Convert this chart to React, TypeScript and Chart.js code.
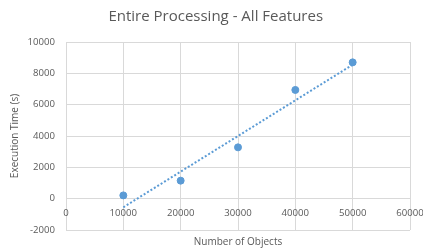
import React, { useEffect, useRef } from "react";
import { Chart, registerables } from "chart.js";

Chart.register(...registerables);

const objectCounts = [10000, 20000, 30000, 40000, 50000];
const executionTimes = [210, 1150, 3275, 6940, 8700];
const trendX = [10000, 50000];
const trendY = [-550, 8550];

const chartTitle = "Entire Processing - All Features";
const xTitle = "Number of Objects";
const yTitle = "Execution Time (s)";

const FONT = "'Open Sans', 'Noto Sans', sans-serif";
const GREY = "#595959";
const BLUE = "#5b9bd5";

const titlePlugin = {
  id: "offsetTitle",
  afterDraw(chart: any) {
    const ctx = chart.ctx;
    ctx.save();
    ctx.fillStyle = GREY;
    ctx.font = `15px ${FONT}`;
    ctx.textAlign = "center";
    ctx.textBaseline = "middle";
    ctx.fillText(chartTitle, chart.width * 0.51, 17);
    ctx.restore();
  },
};

export default function App() {
  const ref = useRef<HTMLCanvasElement>(null);

  useEffect(() => {
    document.body.style.margin = "0";
    const canvas = ref.current;
    if (!canvas) return;
    const chart = new Chart(canvas, {
      type: "scatter",
      data: {
        datasets: [
          {
            label: "Execution",
            data: objectCounts.map((x, i) => ({ x, y: executionTimes[i] })),
            backgroundColor: BLUE,
            borderColor: BLUE,
            pointRadius: 3.5,
            pointHoverRadius: 3.5,
            showLine: false,
          },
          {
            label: "Trend",
            data: trendX.map((x, i) => ({ x, y: trendY[i] })),
            borderColor: BLUE,
            borderWidth: 2,
            borderDash: [2, 2],
            pointRadius: 0,
            showLine: true,
            fill: false,
          },
        ],
      },
      plugins: [titlePlugin],
      options: {
        responsive: false,
        animation: false,
        layout: { padding: { left: 0, right: 13, top: 42, bottom: 0 } },
        plugins: {
          legend: { display: false },
          tooltip: { enabled: false },
          title: { display: false },
        },
        scales: {
          x: {
            type: "linear",
            position: { y: 0 } as any,
            min: 0,
            max: 60000,
            ticks: {
              stepSize: 10000,
              color: GREY,
              font: { family: FONT, size: 9.6 },
              padding: 9,
              maxRotation: 0,
              autoSkip: false,
              callback: (v: any) => String(v),
            },
            grid: { color: "#d9d9d9", drawTicks: false },
            border: { display: false },
            afterFit: (s: any) => {
              s.paddingLeft = 0;
              s.paddingRight = 0;
            },
          },
          x2: {
            type: "linear",
            position: "bottom",
            min: 0,
            max: 60000,
            ticks: { display: false },
            grid: { display: false, drawTicks: false },
            border: { display: false },
            title: {
              display: true,
              text: xTitle,
              color: GREY,
              font: { family: FONT, size: 10 },
              padding: { top: 2, bottom: 3 },
            },
            afterFit: (s: any) => {
              s.height = 21;
              s.paddingLeft = 0;
              s.paddingRight = 0;
            },
          },
          y: {
            type: "linear",
            min: -2000,
            max: 10000,
            ticks: {
              stepSize: 2000,
              color: GREY,
              font: { family: FONT, size: 9.6 },
              padding: 11,
              callback: (v: any) => String(v),
            },
            grid: { color: "#d9d9d9", drawTicks: false },
            border: { display: false },
            title: {
              display: true,
              text: yTitle,
              color: GREY,
              font: { family: FONT, size: 10 },
              padding: { top: 9, bottom: 0 },
            },
            afterFit: (s: any) => {
              s.width = 66;
              s.paddingTop = 0;
              s.paddingBottom = 0;
            },
          },
        },
      },
    });
    return () => chart.destroy();
  }, []);

  return <canvas ref={ref} width={423} height={251} style={{ display: "block" }} />;
}
